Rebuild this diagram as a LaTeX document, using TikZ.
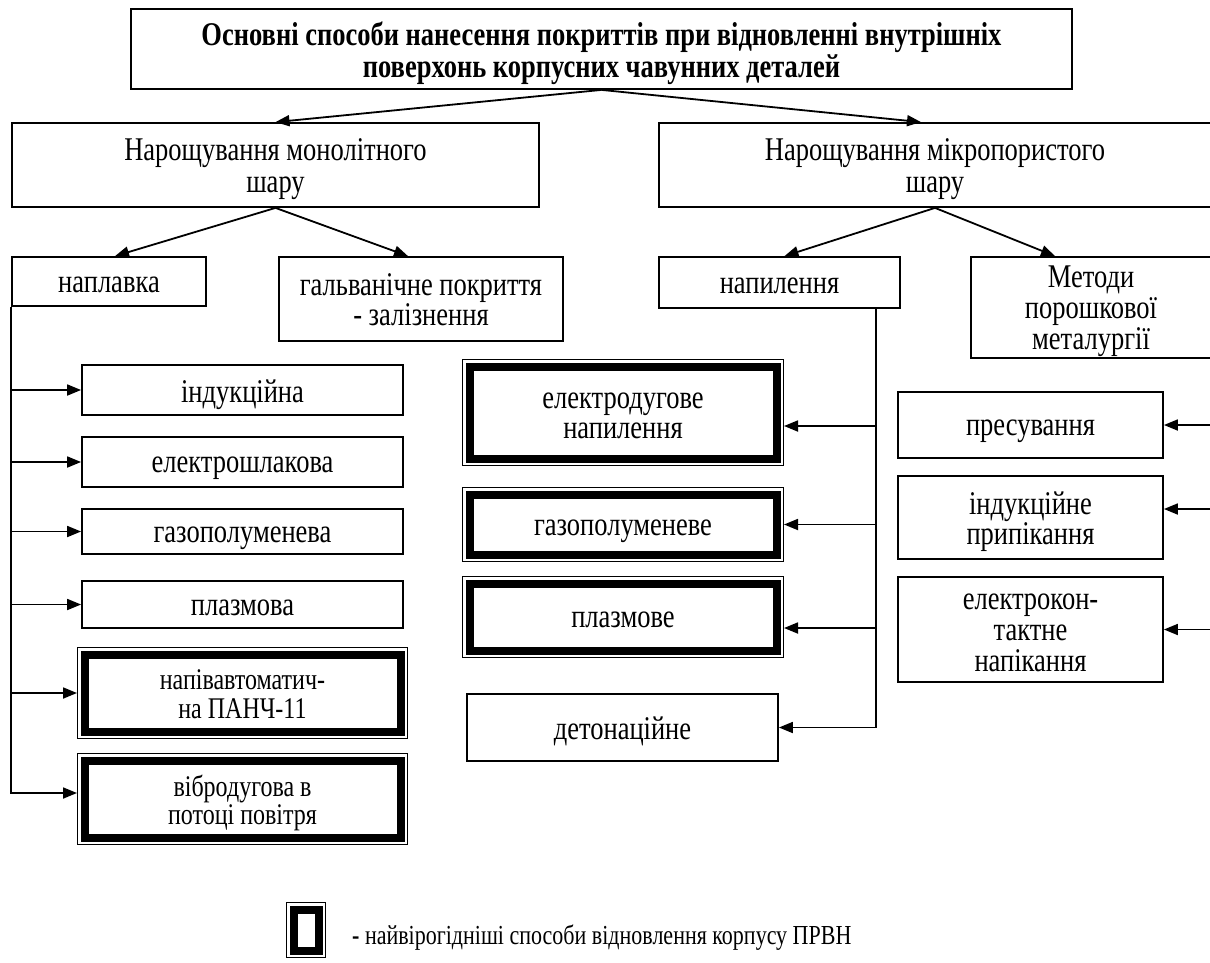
\documentclass[tikz,border=0pt]{standalone}
\usepackage{fontspec}
\setmainfont{Liberation Serif}
\usepackage{graphicx}
\usepackage{tikz}
\usetikzlibrary{arrows.meta, positioning}

% text of the scheme is set tall and narrow
\newcommand{\tallt}[2][1.25]{\raisebox{-5pt}[\height][\depth]{%
  \scalebox{1}[#1]{\begin{tabular}{@{}c@{}}#2\end{tabular}}}}

\tikzset{
  box/.style={rectangle, draw, line width=1.8pt, align=center, inner sep=2pt},
  bestbox/.style={box, line width=8pt, outer sep=7.5pt},
  arr/.style={line width=1.8pt, -{Triangle[length=14pt,width=11pt]}},
}

\begin{document}
\begin{tikzpicture}[x=1pt, y=-1pt, font=\fontsize{26.5pt}{23pt}\selectfont]
  \useasboundingbox (0,0) rectangle (1210,962);
  \clip (0,0) rectangle (1210,962);

  % top level
  \node[box, minimum width=941, minimum height=80] (top) at (601.5,49)
    {\bfseries\fontsize{26.5pt}{24pt}\selectfont
     \tallt{Основні способи нанесення покриттів при відновленні внутрішніх\\
     поверхонь корпусних чавунних деталей}};
  \node[box, minimum width=527, minimum height=84] (L1) at (275.5,165)
    {\fontsize{26.5pt}{26pt}\selectfont\tallt{Нарощування монолітного\\шару}};
  \node[box, minimum width=552, minimum height=84] (R1) at (935,165)
    {\fontsize{26.5pt}{26pt}\selectfont\tallt{Нарощування мікропористого\\шару}};

  % second level
  \node[box, minimum width=194, minimum height=49] (napl) at (109,281.5) {\tallt{наплавка}};
  \node[box, minimum width=284, minimum height=84] (galv) at (421,299)
    {\tallt{гальванічне покриття\\- залізнення}};
  \node[box, minimum width=241, minimum height=51] (napyl) at (779.5,282.5) {\tallt{напилення}};
  \node[box, minimum width=240, minimum height=101] (powd) at (1091,307.5)
    {\fontsize{26.5pt}{24.5pt}\selectfont\tallt{Методи\\порошкової\\металургії}};

  % surfacing
  \node[box, minimum width=321, minimum height=50] (ind) at (242.5,390) {\tallt{індукційна}};
  \node[box, minimum width=321, minimum height=50] (shl) at (242.5,462) {\tallt{електрошлакова}};
  \node[box, minimum width=321, minimum height=45] (gpl) at (242.5,531.5) {\tallt{газополуменева}};
  \node[box, minimum width=321, minimum height=47] (plz) at (242.5,604.5) {\tallt{плазмова}};
  \node[bestbox, minimum width=316, minimum height=77] (semi) at (242.5,693)
    {\fontsize{24pt}{23pt}\selectfont\tallt{напівавтоматич-\\на ПАНЧ-11}};
  \node[bestbox, minimum width=316, minimum height=77] (vib) at (242.5,799)
    {\fontsize{24pt}{23pt}\selectfont\tallt{вібродугова в\\потоці повітря}};

  % spraying
  \node[bestbox, minimum width=307, minimum height=92] (arc) at (623,412.5)
    {\fontsize{26.5pt}{24pt}\selectfont\tallt{електродугове\\напилення}};
  \node[bestbox, minimum width=307, minimum height=60] (gas) at (623,524.5) {\tallt{газополуменеве}};
  \node[bestbox, minimum width=307, minimum height=67] (pls) at (623,617) {\tallt{плазмове}};
  \node[box, minimum width=311, minimum height=67] (det) at (622.5,727.5) {\tallt{детонаційне}};

  % powder metallurgy
  \node[box, minimum width=265, minimum height=66] (press) at (1030.5,425) {\tallt{пресування}};
  \node[box, minimum width=265, minimum height=83] (indp) at (1030.5,517.5)
    {\tallt{індукційне\\припікання}};
  \node[box, minimum width=265, minimum height=105] (ekt) at (1030.5,629.5)
    {\fontsize{26.5pt}{24.5pt}\selectfont\tallt{електрокон-\\тактне\\напікання}};

  % legend
  \node[bestbox, minimum width=25, minimum height=41] (leg) at (306,930) {};
  \node[anchor=west, inner sep=0pt] (legtxt) at (352,933)
    {\fontsize{22pt}{20pt}\selectfont\tallt{{\bfseries -} найвірогідніші способи відновлення корпусу ПРВН}};

  % thin outer frame of the marked boxes
  \foreach \n in {semi,vib,arc,gas,pls,leg}
    \draw[line width=1.2pt] ([shift={(0.6pt,-0.6pt)}]\n.north west)
      rectangle ([shift={(-0.6pt,0.6pt)}]\n.south east);

  % links
  \draw[arr] (top.south) -- (L1.north);
  \draw[arr] (top.south) -- ([xshift=-14pt]R1.north);
  \draw[arr] (L1.south) -- ([xshift=6pt]napl.north);
  \draw[arr] (L1.south) -- ([xshift=-13pt]galv.north);
  \draw[arr] (R1.south) -- ([xshift=5pt]napyl.north);
  \draw[arr] (R1.south) -- ([xshift=-36pt]powd.north);

  \draw[arr] (napl.south west) |- (ind.west);
  \draw[arr] (napl.south west) |- (shl.west);
  \draw[arr] (napl.south west) |- (gpl.west);
  \draw[arr] (napl.south west) |- (plz.west);
  \draw[arr] (napl.south west) |- (semi.west);
  \draw[arr] (napl.south west) |- ([yshift=6pt]vib.west);

  \coordinate (sprbus) at ([xshift=-25pt]napyl.south east);
  \draw[arr] (sprbus) |- ([yshift=-13.5pt]arc.east);
  \draw[arr] (sprbus) |- (gas.east);
  \draw[arr] (sprbus) |- ([yshift=-11pt]pls.east);
  \draw[arr] (sprbus) |- (det.east);

  \coordinate (powbus) at ([xshift=-1.5pt]powd.south east);
  \draw[arr] (powbus) |- (press.east);
  \draw[arr] (powbus) |- ([yshift=8.5pt]indp.east);
  \draw[arr] (powbus) |- (ekt.east);
\end{tikzpicture}
\end{document}
